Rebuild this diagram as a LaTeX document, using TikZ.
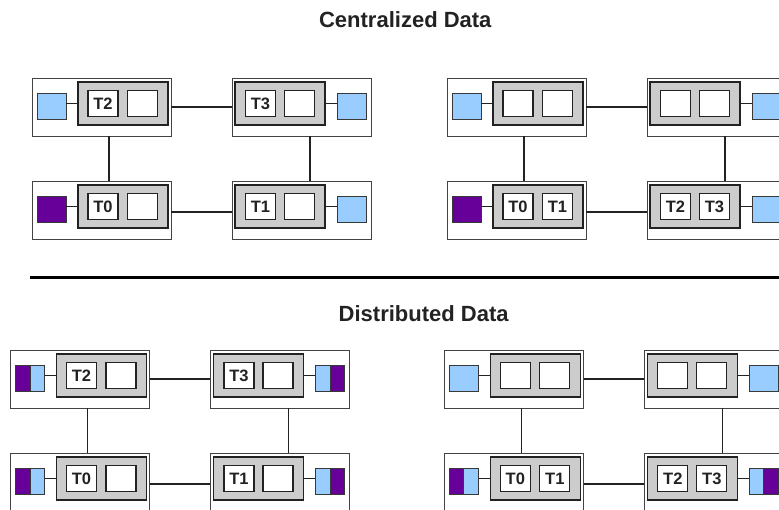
\documentclass[tikz,border=0pt]{standalone}
\usepackage{fontspec}
\setmainfont{Liberation Sans}
\definecolor{lblue}{HTML}{99CCFF}
\definecolor{dpurple}{HTML}{660099}
\definecolor{graybg}{HTML}{CCCCCC}
\definecolor{ink}{HTML}{222222}
\tikzset{
 outerbox/.style={draw=ink!85, line width=0.9pt, minimum width=139pt, minimum height=58pt, inner sep=0pt, fill=white},
 graybox/.style={draw=ink, line width=1.3pt, fill=graybg, minimum width=90pt, minimum height=43pt, inner sep=0pt},
 slot/.style={draw=ink, line width=1.3pt, fill=white, minimum width=30pt, minimum height=26pt, inner sep=0pt, text=ink, font=\bfseries\fontsize{16.5}{18}\selectfont},
 datasq/.style={draw=ink!90, line width=0.9pt, minimum width=29pt, minimum height=26pt, inner sep=0pt},
 sqblue/.style={datasq, fill=lblue},
 sqpurple/.style={datasq, fill=dpurple},
 pairpb/.style={datasq, fill=dpurple, path picture={\fill[lblue] (path picture bounding box.north) rectangle (path picture bounding box.south east);\draw[ink!90, line width=0.9pt] (path picture bounding box.north) -- (path picture bounding box.south);}},
 pairbp/.style={datasq, fill=lblue, path picture={\fill[dpurple] (path picture bounding box.north) rectangle (path picture bounding box.south east);\draw[ink!90, line width=0.9pt] (path picture bounding box.north) -- (path picture bounding box.south);}},
 link/.style={draw=ink, line width=1.2pt},
 title/.style={font=\bfseries\fontsize{22}{24}\selectfont, text=ink, anchor=base},
}
% cell with the data square on the left
\newcommand\cellL[6]{%
 \node[outerbox] (#1o) at (#2+69.5, #3+29) {};
 \node[graybox] (#1g) at (#2+91, #3+25.5) {};
 \node[slot] (#1a) at (#2+71, #3+25.5) {#4};
 \node[slot] (#1b) at (#2+110.5, #3+25.5) {#5};
 \node[#6] (#1s) at (#2+19.5, #3+28) {};
 \draw[link] (#1g.west) -- (#1g.west -| #1s.east);
}
% cell with the data square on the right
\newcommand\cellR[6]{%
 \node[outerbox] (#1o) at (#2+69.5, #3+29) {};
 \node[graybox] (#1g) at (#2+48, #3+25.5) {};
 \node[slot] (#1a) at (#2+28.5, #3+25.5) {#4};
 \node[slot] (#1b) at (#2+67.5, #3+25.5) {#5};
 \node[#6] (#1s) at (#2+119.5, #3+28) {};
 \draw[link] (#1g.east) -- (#1g.east -| #1s.west);
}
\newcommand\panelinks[1]{%
 \draw[link] (#1tlo) -- (#1tro);
 \draw[link] ([yshift=-2pt]#1blo.east) -- ([yshift=-2pt]#1bro.west);
 \draw[link] ([xshift=7.5pt]#1tlo.south) -- ([xshift=7.5pt]#1blo.north);
 \draw[link] ([xshift=8.5pt]#1tro.south) -- ([xshift=8.5pt]#1bro.north);
}
\begin{document}
\begin{tikzpicture}[x=1pt, y=-1pt]
\clip (0,0) rectangle (779,509);
\fill[white] (0,0) rectangle (779,509);

\node[title] (t1) at (405.3, 27.3) {Centralized Data};
\node[title] (t2) at (423.7, 321.7) {Distributed Data};
\coordinate (ruleA) at (30, 277.5);
\coordinate (ruleB) at (790, 277.5);
\draw[line width=3pt, black] (ruleA) -- (ruleB);

% upper left pane
\cellL{atl}{32}{78}{T2}{}{sqblue}
\cellR{atr}{232}{78}{T3}{}{sqblue}
\cellL{abl}{32}{181}{T0}{}{sqpurple}
\cellR{abr}{232}{181}{T1}{}{sqblue}
\panelinks{a}

% upper right pane
\cellL{btl}{447}{78}{}{}{sqblue}
\cellR{btr}{647}{78}{}{}{sqblue}
\cellL{bbl}{447}{181}{T0}{T1}{sqpurple}
\cellR{bbr}{647}{181}{T2}{T3}{sqblue}
\panelinks{b}

% lower left pane
\cellL{ctl}{10.5}{350}{T2}{}{pairpb}
\cellR{ctr}{210.5}{350}{T3}{}{pairbp}
\cellL{cbl}{10.5}{453}{T0}{}{pairpb}
\cellR{cbr}{210.5}{453}{T1}{}{pairbp}
\panelinks{c}

% lower right pane
\cellL{dtl}{444.3}{350}{}{}{sqblue}
\cellR{dtr}{644.3}{350}{}{}{sqblue}
\cellL{dbl}{444.3}{453}{T0}{T1}{pairpb}
\cellR{dbr}{644.3}{453}{T2}{T3}{pairbp}
\panelinks{d}
\end{tikzpicture}
\end{document}
